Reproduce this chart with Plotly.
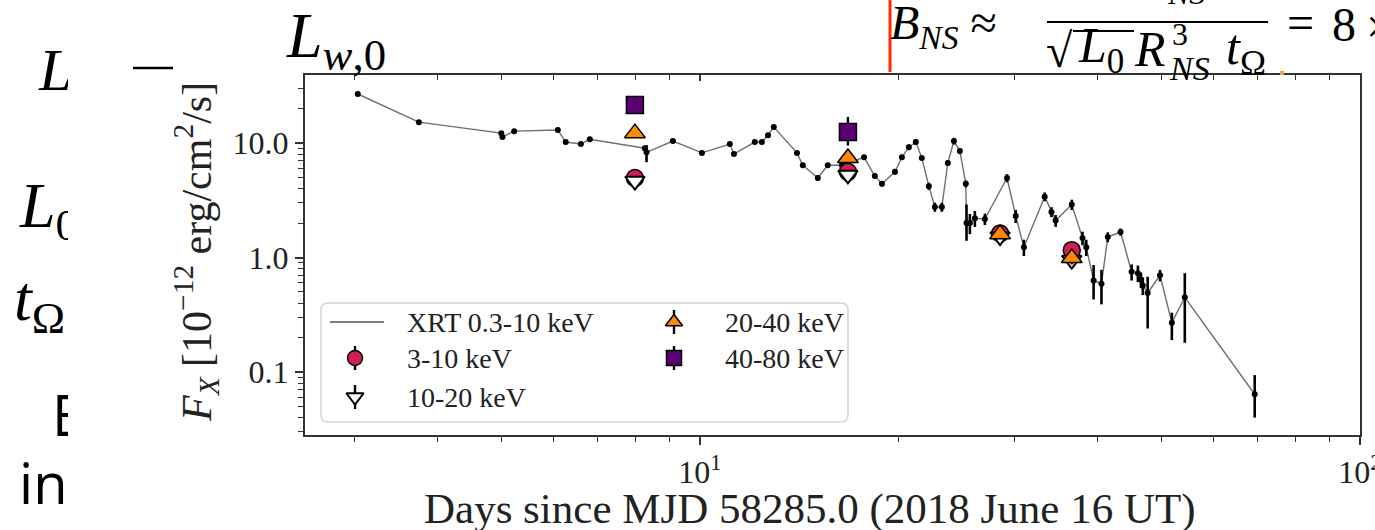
import plotly.graph_objects as go

# ---------------- data ----------------
# Swift/XRT 0.3-10 keV light curve
xrt_days = [3.03, 3.75, 5.00, 5.02, 5.23, 6.09, 6.26, 6.60, 6.81, 8.25, 8.30,
            9.10, 10.07, 11.1, 11.26, 12.11, 12.41, 12.68, 12.94, 14.03, 14.32,
            15.09, 15.62, 16.41, 17.73, 18.41, 18.87, 19.75, 20.23, 20.73, 21.24,
            21.69, 22.23, 22.70, 23.26, 23.75, 24.26, 24.77, 25.29, 25.35, 25.65,
            26.1, 27.03, 29.2, 30.1, 30.97, 33.3, 34.1, 34.6, 36.6, 38.0, 38.5,
            39.5, 40.6, 41.5, 43.4, 45.1, 46.1, 46.6, 46.9, 47.7, 49.8, 51.9,
            54.3, 69.3]
xrt_flux = [26.8, 15.2, 12.2, 11.3, 12.7, 13.0, 10.2, 9.8, 10.8, 9.0, 8.3,
            10.4, 8.2, 9.8, 8.0, 10.2, 10.2, 11.7, 13.8, 8.2, 6.4,
            4.95, 6.4, 6.4, 7.5, 5.15, 4.4, 5.6, 7.5, 9.2, 10.2,
            7.4, 4.2, 2.76, 2.76, 6.7, 10.4, 8.5, 4.4, 2.0, 2.0,
            2.2, 2.17, 4.95, 2.3, 1.23, 3.4, 2.5, 2.1, 2.9, 1.48, 1.23,
            0.63, 0.59, 1.51, 1.67, 0.75, 0.73, 0.64, 0.57, 0.49, 0.70, 0.27,
            0.45, 0.064]
xrt_err_up = [0.6, 0.4, 0.4, 0.4, 0.4, 0.4, 0.3, 0.3, 0.3, 0.3, 1.3,
              0.3, 0.3, 0.3, 0.3, 0.3, 0.3, 0.3, 0.4, 0.3, 0.3,
              0.25, 0.3, 0.3, 0.3, 0.25, 0.25, 0.3, 0.4, 0.5, 0.6,
              0.3, 0.3, 0.25, 0.25, 0.4, 0.7, 0.5, 0.3, 0.9, 0.4,
              0.35, 0.25, 0.4, 0.3, 0.2, 0.3, 0.25, 0.25, 0.3, 0.2, 0.2,
              0.23, 0.19, 0.15, 0.12, 0.12, 0.12, 0.1, 0.1, 0.19, 0.08, 0.06,
              0.28, 0.03]
xrt_err_dn = [0.6, 0.4, 0.4, 0.4, 0.4, 0.4, 0.3, 0.3, 0.3, 0.3, 1.5,
              0.3, 0.3, 0.3, 0.3, 0.3, 0.3, 0.3, 0.4, 0.3, 0.3,
              0.25, 0.3, 0.3, 0.3, 0.25, 0.25, 0.3, 0.4, 0.5, 0.6,
              0.3, 0.3, 0.25, 0.25, 0.4, 0.7, 0.5, 0.3, 0.6, 0.4,
              0.35, 0.25, 0.4, 0.3, 0.2, 0.3, 0.25, 0.25, 0.3, 0.2, 0.2,
              0.2, 0.2, 0.15, 0.12, 0.12, 0.12, 0.1, 0.1, 0.25, 0.08, 0.08,
              0.27, 0.024]

# NuSTAR band fluxes at four epochs
nu_days = [7.97, 16.76, 28.5, 36.6]
flux_3_10 = [4.95, 5.6, 1.62, 1.16]
err_3_10 = [0.3, 0.35, 0.12, 0.1]
flux_10_20 = [4.66, 5.26, 1.52, 0.95]
err_10_20 = [0.4, 0.4, 0.12, 0.1]
flux_20_40 = [12.2, 7.4, 1.60, 0.99]
err_20_40 = [0.9, 0.8, 0.15, 0.12]
hard_days = [7.97, 16.76]
flux_40_80 = [21.5, 12.5]
err_40_80_up = [2.0, 4.4]
err_40_80_dn = [2.0, 3.0]

band_names = ["XRT 0.3-10 keV", "3-10 keV", "10-20 keV", "20-40 keV", "40-80 keV"]
x_major = [10, 100]
x_major_text = ["10<sup>1</sup>", "10<sup>2</sup>"]
x_minor = [3, 4, 5, 6, 7, 8, 9, 20, 30, 40, 50, 60, 70, 80, 90]
y_major = [0.1, 1, 10]
y_major_text = ["0.1", "1.0", "10.0"]
y_minor = [0.03, 0.04, 0.05, 0.06, 0.07, 0.08, 0.09,
           0.2, 0.3, 0.4, 0.5, 0.6, 0.7, 0.8, 0.9,
           2, 3, 4, 5, 6, 7, 8, 9, 20, 30]

# ---------------- page geometry ----------------
W, H = 1375, 530
ML, MR, MT, MB = 305, 15, 75, 95
PW, PH = W - ML - MR, H - MT - MB


def px(x):
    return (x - ML) / PW


def py(y):
    return (H - MB - y) / PH


SERIF = "Liberation Serif"
SANS = "Open Sans"
INK = "#222"
C_310 = "#cc2152"
C_2040 = "#ff8a00"
C_4080 = "#5a0072"

fig = go.Figure()

# XRT light curve: connecting line, then points with error bars
fig.add_trace(go.Scatter(x=xrt_days, y=xrt_flux, mode="lines",
                         line=dict(color="#707070", width=1.4), hoverinfo="skip"))
fig.add_trace(go.Scatter(x=xrt_days, y=xrt_flux, mode="markers",
                         marker=dict(color="black", size=6),
                         error_y=dict(type="data", symmetric=False, array=xrt_err_up,
                                      arrayminus=xrt_err_dn, color="black",
                                      thickness=2.6, width=0)))


def band(x, y, eu, ed, symbol, fill, size=18, lw=1.5):
    fig.add_trace(go.Scatter(
        x=x, y=y, mode="markers",
        marker=dict(symbol=symbol, size=size, color=fill,
                    line=dict(color="black", width=lw)),
        error_y=dict(type="data", symmetric=False, array=eu, arrayminus=ed,
                     color="black", thickness=2.4, width=0)))


band(nu_days, flux_3_10, err_3_10, err_3_10, "circle", C_310, 17)
band(nu_days, flux_10_20, err_10_20, err_10_20, "triangle-down", "white", 17, 2)
band(nu_days, flux_20_40, err_20_40, err_20_40, "triangle-up", C_2040, 18)
band(hard_days, flux_40_80, err_40_80_up, err_40_80_dn, "square", C_4080, 17)

# invisible anchor for the top tick axis
fig.add_trace(go.Scatter(x=[10], y=[1], xaxis="x2", mode="markers",
                         marker=dict(opacity=0), hoverinfo="skip"))

# ---------------- legend box (drawn in pixel space on an overlay axis) ----------------
lx0, lx1, ly0, ly1, rr = 321, 848, 303, 422, 7
box_path = (
    f"M {px(lx0 + rr)} {py(ly0)} L {px(lx1 - rr)} {py(ly0)} "
    f"Q {px(lx1)} {py(ly0)} {px(lx1)} {py(ly0 + rr)} "
    f"L {px(lx1)} {py(ly1 - rr)} Q {px(lx1)} {py(ly1)} {px(lx1 - rr)} {py(ly1)} "
    f"L {px(lx0 + rr)} {py(ly1)} Q {px(lx0)} {py(ly1)} {px(lx0)} {py(ly1 - rr)} "
    f"L {px(lx0)} {py(ly0 + rr)} Q {px(lx0)} {py(ly0)} {px(lx0 + rr)} {py(ly0)} Z"
)

key_rows = [322, 358, 397]
col1_key, col2_key = 355, 674
col1_txt, col2_txt = 405, 723

fig.add_trace(go.Scatter(x=[330, 384], y=[key_rows[0]] * 2, xaxis="x3", yaxis="y3",
                         mode="lines", line=dict(color="#555", width=1.4)))


def key(x, y, symbol, fill, lw=1.5):
    fig.add_trace(go.Scatter(
        x=[x], y=[y], xaxis="x3", yaxis="y3", mode="markers",
        marker=dict(symbol=symbol, size=15, color=fill, line=dict(color="black", width=lw)),
        error_y=dict(type="data", array=[12], color="black", thickness=2.4, width=0)))


key(col1_key, key_rows[1], "circle", C_310)
key(col1_key, key_rows[2], "triangle-down", "white", 2)
key(col2_key, key_rows[0], "triangle-up", C_2040)
key(col2_key, key_rows[1], "square", C_4080)

notes = []


def text(t, x, y, size, family=SERIF, xanchor="left", yanchor="middle", color=INK, angle=0):
    notes.append(dict(text=t, x=px(x), y=py(y), xref="paper", yref="paper",
                      xanchor=xanchor, yanchor=yanchor, showarrow=False, textangle=angle,
                      font=dict(family=family, size=size, color=color)))


# surrounding slide text (left column runs under the chart image)
text("<i>L</i>", 36, 70, 60, color="black")
text("<i>L</i><sub>0</sub>", 17, 210, 64, color="black")
text("<i>t</i><sub>Ω</sub>", 12, 303, 64, color="black")
text("E", 50, 414, 56, family=SANS, color="black")
text("in", 17, 482, 56, family=SANS, color="black")

# white chart-image edge hiding the slide text beneath it
notes.append(dict(text=" ", x=px(68), y=py(76), xref="paper", yref="paper",
                  xanchor="left", yanchor="top", showarrow=False, width=100, height=454,
                  bgcolor="white", borderpad=0, borderwidth=0))

text("<i>L</i><sub><i>w</i>,0</sub>", 284, 40, 64, color="black")

# formula in the upper right
text("<i>B</i><sub><i>NS</i></sub> ≈", 888, 26, 48, color="black")
text("<i>c</i><sup>3/2</sup>  <i>I</i><sub><i>NS</i></sub>", 1066, 13, 46,
     yanchor="bottom", color="black")
text("√", 1044, 50, 48, color="black")
text("<i>L</i><sub>0</sub>", 1076, 49, 50, color="black")
text("<i>R</i>", 1132, 49, 50, color="black")
text("3", 1170, 34, 32, color="black")
text("<i>NS</i>", 1167, 68, 34, color="black")
text("<i>t</i><sub>Ω</sub>", 1224, 51, 50, color="black")
text("=", 1285, 22, 48, color="black")
text("8", 1330, 24, 48, color="black")
text("×", 1364, 26, 48, color="black")

# legend labels
text(band_names[0], col1_txt, key_rows[0], 28)
text(band_names[1], col1_txt, key_rows[1], 28)
text(band_names[2], col1_txt, key_rows[2], 28)
text(band_names[3], col2_txt, key_rows[0], 28)
text(band_names[4], col2_txt, key_rows[1], 28)

# axis titles
text("Days since MJD 58285.0 (2018 June 16 UT)", 810, 509, 43, xanchor="center")
text("<i>F</i><sub><i>X</i></sub> [10<sup>−12</sup> erg/cm<sup>2</sup>/s]",
     196, 252, 42, xanchor="center", angle=-90)

shapes = [
    dict(type="path", path=box_path, xref="paper", yref="paper", layer="below",
         line=dict(color="#d4d4d4", width=1.5), fillcolor="rgba(255,255,255,0.85)"),
    dict(type="line", x0=px(133), x1=px(173), y0=py(68), y1=py(68), xref="paper", yref="paper",
         line=dict(color="black", width=2.5)),
    dict(type="line", x0=px(1047), x1=px(1268), y0=py(22), y1=py(22), xref="paper",
         yref="paper", line=dict(color="black", width=2)),
    dict(type="line", x0=px(1073), x1=px(1134), y0=py(31), y1=py(31), xref="paper",
         yref="paper", line=dict(color="black", width=1.8)),
    dict(type="line", x0=px(890), x1=px(890), y0=py(0), y1=py(72), xref="paper",
         yref="paper", line=dict(color="#ff2a00", width=3)),
    dict(type="rect", x0=px(1280), x1=px(1284), y0=py(75), y1=py(71), xref="paper",
         yref="paper", line=dict(width=0), fillcolor="#ffa040"),
]

tick_font = dict(family=SERIF, size=32, color=INK)
xr = [0.4015, 2.0003]
yr = [-1.55, 1.594]

fig.update_layout(
    width=W, height=H, margin=dict(l=ML, r=MR, t=MT, b=MB, pad=0, autoexpand=False),
    paper_bgcolor="white", plot_bgcolor="white", showlegend=False,
    annotations=notes, shapes=shapes,
    xaxis=dict(type="log", range=xr, showline=True, linecolor="#333", linewidth=2,
               mirror=True, ticks="outside", ticklen=8, tickwidth=1.5, tickcolor="#333",
               tickmode="array", tickvals=x_major, ticktext=x_major_text, tickfont=tick_font,
               ticklabeloverflow="allow", automargin=False,
               minor=dict(ticks="outside", ticklen=5, tickwidth=1.2, tickcolor="#333",
                          tickmode="array", tickvals=x_minor),
               showgrid=False, zeroline=False),
    xaxis2=dict(type="log", range=xr, overlaying="x", side="top", anchor="y",
                ticks="inside", ticklen=6, tickwidth=1.5, tickcolor="#333",
                tickmode="array", tickvals=x_major, showticklabels=False, automargin=False,
                minor=dict(ticks="inside", ticklen=5, tickwidth=1.2, tickcolor="#333",
                           tickmode="array", tickvals=x_minor),
                showgrid=False, zeroline=False, showline=False),
    yaxis=dict(type="log", range=yr, showline=True, linecolor="#333", linewidth=2,
               mirror=True, ticks="outside", ticklen=8, tickwidth=1.5, tickcolor="#333",
               tickmode="array", tickvals=y_major, ticktext=y_major_text, tickfont=tick_font,
               automargin=False,
               minor=dict(ticks="outside", ticklen=5, tickwidth=1.2, tickcolor="#333",
                          tickmode="array", tickvals=y_minor),
               showgrid=False, zeroline=False),
    xaxis3=dict(range=[ML, W - MR], overlaying="x", anchor="y3", visible=False),
    yaxis3=dict(range=[H - MB, MT], overlaying="y", anchor="x3", visible=False),
)

fig.write_html("out.html")
